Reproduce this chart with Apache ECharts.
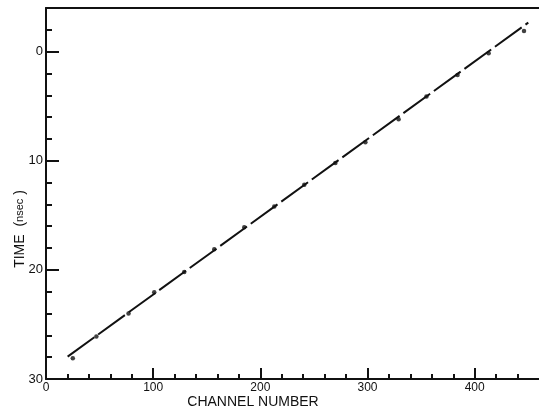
<!DOCTYPE html>
<html>
<head>
<meta charset="utf-8">
<script src="https://cdn.jsdelivr.net/npm/echarts@6/dist/echarts.min.js"></script>
<style>
html,body{margin:0;padding:0;background:#fff;}
#chart{width:539px;height:411px;}
</style>
</head>
<body>
<div id="chart"></div>
<script>
// Measured calibration points
var channel = [25, 47, 77, 101, 129, 157, 185, 213, 241, 270, 298, 329, 355, 384, 413, 446];
var timeNs = [28.1, 26.1, 24.0, 22.05, 20.2, 18.1, 16.1, 14.2, 12.2, 10.2, 8.3, 6.2, 4.1, 2.15, 0.15, -1.9];
// Fitted straight line end points
var fitChannel = [18, 450];
var fitTime = [28.1, -2.66];
// Tick labels
var xTickLabels = [0, 100, 200, 300, 400];
var xMinorTicks = [20, 40, 60, 80, 120, 140, 160, 180, 220, 240, 260, 280, 320, 340, 360, 380, 420, 440];
var yTickLabels = [0, 10, 20, 30];
var yMinorTicks = [-2, 2, 4, 6, 8, 12, 14, 16, 18, 22, 24, 26, 28];

var ink = '#111';
var font = 'Liberation Sans';

var chart = echarts.init(document.getElementById('chart'), null, {renderer: 'canvas'});

function zip(a, b) { return a.map(function (v, i) { return [v, b[i]]; }); }

var option = {
  backgroundColor: '#fff',
  animation: false,
  grid: {left: 46, top: 8, right: 0, bottom: 32, containLabel: false},
  xAxis: [
    {
      type: 'value', position: 'bottom', min: 0, max: 460,
      axisLine: {show: true, onZero: false, lineStyle: {color: ink, width: 2}},
      axisTick: {show: true, inside: true, length: 11, lineStyle: {color: ink, width: 2}, customValues: xTickLabels},
      axisLabel: {show: true, customValues: xTickLabels, color: ink, fontSize: 12, fontFamily: font, margin: 3},
      splitLine: {show: false}
    },
    {
      type: 'value', position: 'bottom', min: 0, max: 460,
      axisLine: {show: false, onZero: false},
      axisTick: {show: true, inside: true, length: 5, lineStyle: {color: ink, width: 2}, customValues: xMinorTicks},
      axisLabel: {show: false},
      splitLine: {show: false}
    },
    {
      type: 'value', position: 'top', min: 0, max: 460,
      axisLine: {show: true, onZero: false, lineStyle: {color: ink, width: 2}},
      axisTick: {show: false},
      axisLabel: {show: false},
      splitLine: {show: false}
    }
  ],
  yAxis: [
    {
      type: 'value', position: 'left', inverse: true, min: -4, max: 30,
      axisLine: {show: true, onZero: false, lineStyle: {color: ink, width: 2}},
      axisTick: {show: true, inside: true, length: 13, lineStyle: {color: ink, width: 2}, customValues: yTickLabels},
      axisLabel: {show: true, customValues: yTickLabels, color: ink, fontSize: 13, fontFamily: font, margin: 3},
      splitLine: {show: false}
    },
    {
      type: 'value', position: 'left', inverse: true, min: -4, max: 30,
      axisLine: {show: false, onZero: false},
      axisTick: {show: true, inside: true, length: 6, lineStyle: {color: ink, width: 2}, customValues: yMinorTicks},
      axisLabel: {show: false},
      splitLine: {show: false}
    }
  ],
  graphic: [
    {
      type: 'text', x: 253, y: 402,
      style: {text: 'CHANNEL NUMBER', fill: ink, font: '14px "' + font + '"', align: 'center', verticalAlign: 'middle'}
    },
    {
      type: 'text', x: 20, y: 229, rotation: Math.PI / 2,
      style: {
        text: '{a|TIME  (}{b|nsec}{a| )}', fill: ink, align: 'center', verticalAlign: 'middle',
        rich: {
          a: {fontSize: 14, fontFamily: font, fill: ink},
          b: {fontSize: 11, fontFamily: font, fill: ink}
        }
      }
    }
  ],
  series: [
    {
      type: 'line', xAxisIndex: 0, yAxisIndex: 0,
      data: zip(fitChannel, fitTime),
      showSymbol: false, symbol: 'none',
      lineStyle: {color: ink, width: 2, type: [33, 4.7], dashOffset: 34.8},
      z: 2
    },
    {
      type: 'scatter', xAxisIndex: 0, yAxisIndex: 0,
      data: zip(channel, timeNs),
      symbol: 'circle', symbolSize: 4.5,
      itemStyle: {color: ink},
      z: 3
    }
  ]
};
chart.setOption(option);
</script>
</body>
</html>
